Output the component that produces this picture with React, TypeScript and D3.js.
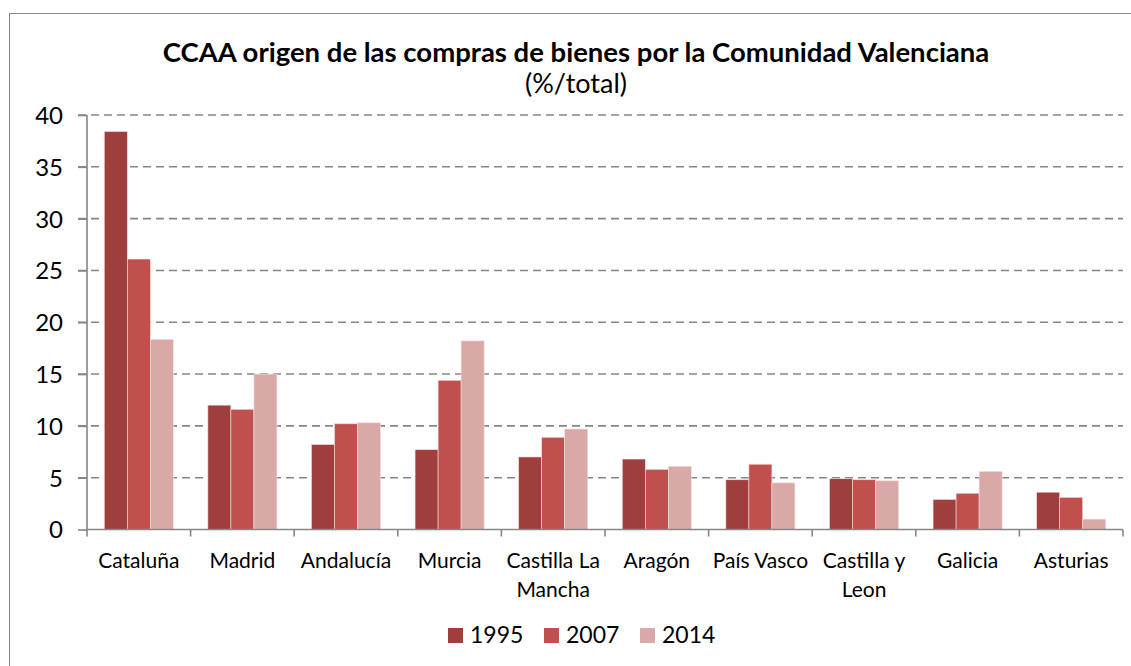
import { useEffect, useRef } from 'react';
import * as d3 from 'd3';

// categories & series
const regions = ['Cataluña', 'Madrid', 'Andalucía', 'Murcia', 'Castilla La Mancha', 'Aragón', 'País Vasco', 'Castilla y Leon', 'Galicia', 'Asturias'];
const regionLines = [['Cataluña'], ['Madrid'], ['Andalucía'], ['Murcia'], ['Castilla La', 'Mancha'], ['Aragón'], ['País Vasco'], ['Castilla y', 'Leon'], ['Galicia'], ['Asturias']];
const years = ['1995', '2007', '2014'];
const v1995 = [38.4, 12.0, 8.2, 7.7, 7.0, 6.8, 4.8, 4.9, 2.9, 3.6];
const v2007 = [26.1, 11.6, 10.2, 14.4, 8.9, 5.8, 6.3, 4.8, 3.5, 3.1];
const v2014 = [18.35, 15.0, 10.3, 18.2, 9.7, 6.1, 4.5, 4.7, 5.6, 1.0];
const yTicks = [0, 5, 10, 15, 20, 25, 30, 35, 40];

const COLORS = ['#9E3F3D', '#C0504D', '#D9A9A8'];
const font = "Lato, 'Open Sans', sans-serif";

export default function App() {
  const ref = useRef<SVGSVGElement>(null);

  useEffect(() => {
    const svg = d3.select(ref.current);
    svg.selectAll('*').remove();

    const W = 1131, H = 666;
    const left = 87, right = 1123, top = 115, bottom = 529.5;
    const series = [v1995, v2007, v2014];

    svg.append('rect').attr('width', W).attr('height', H).attr('fill', '#fff');
    // chart border (only top & left visible in the frame)
    svg.append('rect').attr('x', 9.5).attr('y', 13.5).attr('width', W + 20).attr('height', H + 20)
      .attr('fill', 'none').attr('stroke', '#898989').attr('stroke-width', 1);

    const x0 = d3.scaleBand().domain(regions).range([left, right]).paddingInner(0).paddingOuter(0);
    const bw = x0.bandwidth() / 4.5; // Excel gap width 150%
    const y = d3.scaleLinear().domain([0, 40]).range([bottom, top]);

    // grid
    svg.append('g').selectAll('line').data(yTicks.filter(d => d > 0)).join('line')
      .attr('x1', left - 9).attr('x2', right)
      .attr('y1', d => y(d)).attr('y2', d => y(d))
      .attr('stroke', '#868686').attr('stroke-width', 1.6).attr('stroke-dasharray', '8,5');

    // bars
    series.forEach((vals, si) => {
      svg.append('g').selectAll('rect').data(vals).join('rect')
        .attr('x', (d, i) => x0(regions[i])! + x0.bandwidth() / 2 - 1.5 * bw + si * bw)
        .attr('y', d => y(d))
        .attr('width', bw)
        .attr('height', d => bottom - y(d))
        .attr('fill', COLORS[si])
        .attr('stroke', '#f3dedd').attr('stroke-width', 0.6);
    });

    // y axis
    const ya = svg.append('g').attr('transform', `translate(${left},0)`)
      .call(d3.axisLeft(y).tickValues(yTicks).tickSize(9).tickPadding(15));
    ya.select('.domain').attr('stroke', '#868686').attr('stroke-width', 1.6).attr('d', `M0,${top}V${bottom}`);
    ya.selectAll('line').attr('stroke', '#868686').attr('stroke-width', 1.6);
    ya.selectAll('text').attr('font-family', font).attr('font-size', 24).attr('fill', '#000').attr('dy', '0.35em');

    // x axis
    const xa = svg.append('g').attr('transform', `translate(0,${bottom})`)
      .call(d3.axisBottom(x0).tickSize(0).tickFormat(() => ''));
    xa.select('.domain').attr('stroke', '#868686').attr('stroke-width', 1.6).attr('d', `M${left},0H${right}`);
    xa.selectAll('.tick').remove();
    const edges = regions.map(r => x0(r)!).concat([right]);
    xa.append('g').selectAll('line').data(edges).join('line')
      .attr('x1', d => d).attr('x2', d => d).attr('y1', 0).attr('y2', 7)
      .attr('stroke', '#868686').attr('stroke-width', 1.6);

    const lbl = svg.append('g').attr('font-family', font).attr('font-size', 21).attr('fill', '#000').attr('text-anchor', 'middle');
    regions.forEach((r, i) => {
      const t = lbl.append('text').attr('x', x0(r)! + x0.bandwidth() / 2).attr('y', 568);
      regionLines[i].forEach((ln, li) => {
        t.append('tspan').attr('x', x0(r)! + x0.bandwidth() / 2).attr('dy', li === 0 ? 0 : 29).text(ln);
      });
    });

    // title
    svg.append('text').attr('x', 576).attr('y', 62).attr('text-anchor', 'middle')
      .attr('font-family', font).attr('font-weight', 700).attr('font-size', 27.5).attr('fill', '#000')
      .text('CCAA origen de las compras de bienes por la Comunidad Valenciana');
    svg.append('text').attr('x', 576).attr('y', 93).attr('text-anchor', 'middle')
      .attr('font-family', font).attr('font-size', 27).attr('fill', '#000')
      .text('(%/total)');

    // legend
    const lx = [448, 544, 640];
    const lg = svg.append('g');
    years.forEach((yr, i) => {
      lg.append('rect').attr('x', lx[i]).attr('y', 628).attr('width', 15).attr('height', 15).attr('fill', COLORS[i]);
      lg.append('text').attr('x', lx[i] + 22).attr('y', 643).attr('font-family', font).attr('font-size', 23).attr('fill', '#000').text(yr);
    });
  }, []);

  return <svg ref={ref} width={1131} height={666} style={{ position: 'absolute', left: 0, top: 0 }} />;
}
